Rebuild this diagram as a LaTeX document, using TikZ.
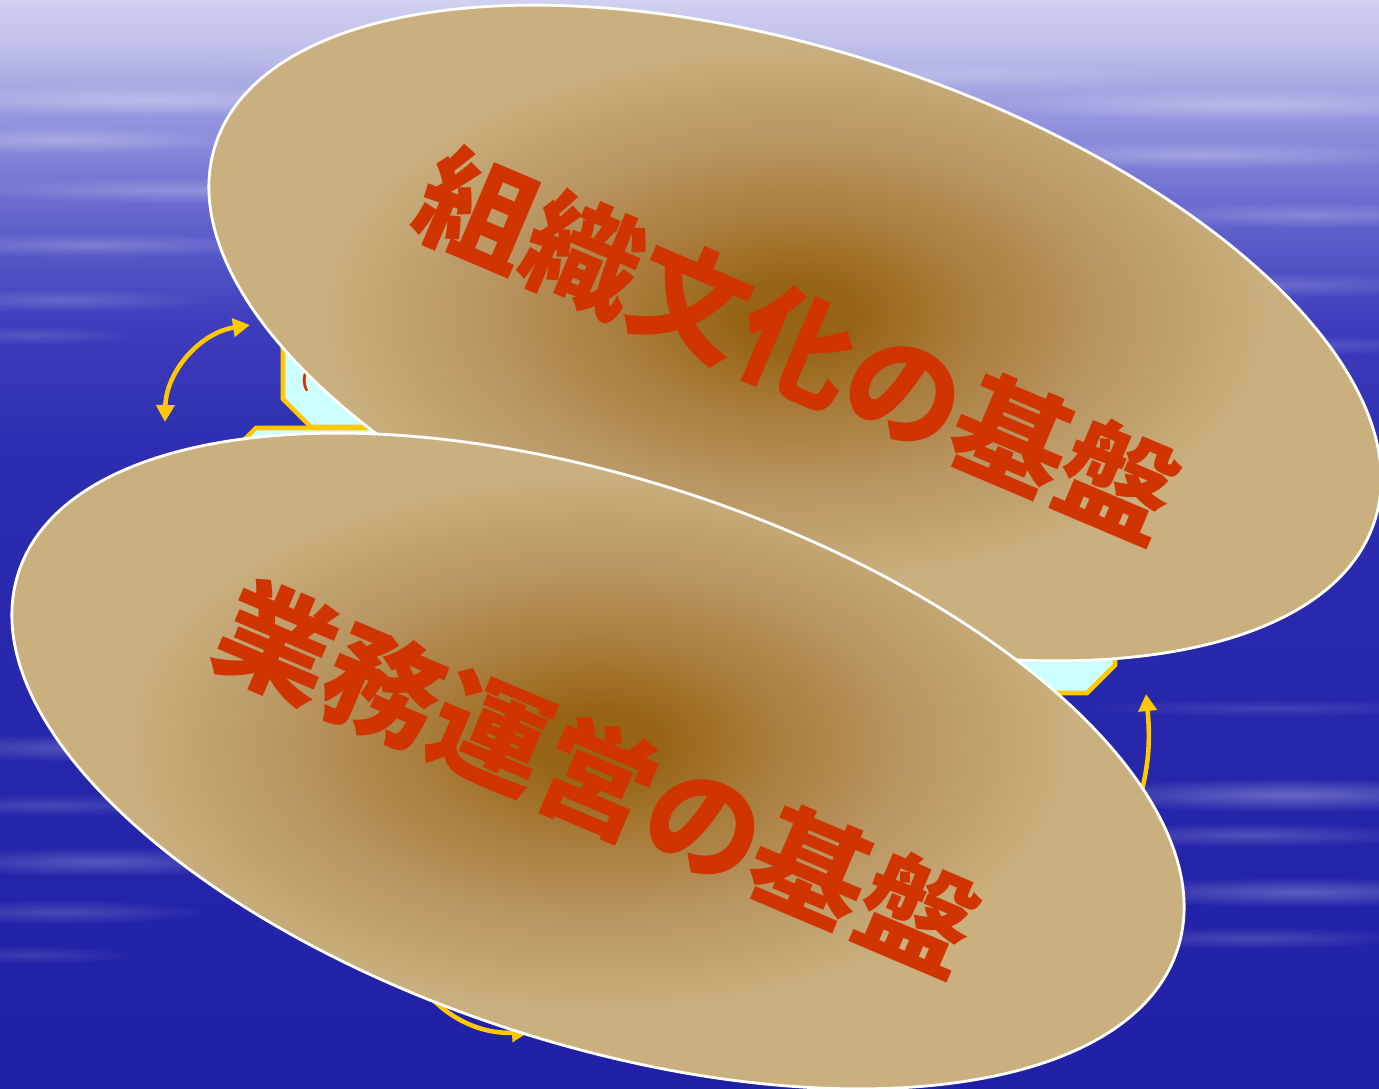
\documentclass[tikz,border=0pt]{standalone}
\usepackage{fontspec}
\usetikzlibrary{arrows.meta, shapes.geometric, fadings}
\newfontfamily\jpfont{Noto Sans CJK JP}
\definecolor{skytop}{RGB}{208,208,240}
\definecolor{skyhi}{RGB}{192,192,234}
\definecolor{skymid}{RGB}{148,148,222}
\definecolor{skyblu}{RGB}{100,100,205}
\definecolor{skylow}{RGB}{60,60,188}
\definecolor{skydeep}{RGB}{44,44,176}
\definecolor{skybot}{RGB}{32,32,166}
\definecolor{basec}{RGB}{201,176,126}
\definecolor{coremid}{RGB}{184,148,96}
\definecolor{coreinc}{RGB}{166,120,52}
\definecolor{corec}{RGB}{150,100,20}
\definecolor{titlec}{RGB}{208,52,0}
\definecolor{boxc}{RGB}{204,255,255}
\definecolor{goldc}{RGB}{255,200,0}
\pgfdeclareverticalshading{sky}{100bp}{%
  color(0bp)=(skybot); color(25bp)=(skybot); color(54bp)=(skydeep);
  color(60bp)=(skylow); color(65bp)=(skyblu); color(69.5bp)=(skymid);
  color(73bp)=(skyhi); color(75bp)=(skytop); color(100bp)=(skytop)}
\pgfdeclareradialshading{basin}{\pgfpoint{0bp}{0bp}}{%
  color(0bp)=(corec); color(2.5bp)=(corec); color(6bp)=(coreinc);
  color(12bp)=(coremid); color(19bp)=(basec); color(50bp)=(basec)}
\tikzfading[name=streakfade, inner color=transparent!0, outer color=transparent!100]
% octagon box: left, top, right, bottom (pixels)
\newcommand\chambox[4]{%
  \draw[cell] (#1+28,#2) -- (#3-28,#2) -- (#3,#2+28) -- (#3,#4-28)
    -- (#3-28,#4) -- (#1+28,#4) -- (#1,#4-28) -- (#1,#2+28) -- cycle;}

\begin{document}
\begin{tikzpicture}[x=0.01cm, y=-0.01cm,
    basin/.style={ellipse, draw=white, line width=0.8pt, shading=basin,
      minimum width=12.18cm, minimum height=5.64cm, inner sep=0pt},
    title/.style={text=titlec, inner sep=0pt,
      font=\jpfont\bfseries\fontsize{33}{33}\selectfont},
    cell/.style={draw=goldc, fill=boxc, line width=1.3pt, line join=miter},
    cyc/.style={goldc, line width=1.3pt},
    tip/.tip={Triangle[length=1.7mm, width=1.8mm]}]
  \useasboundingbox (0,0) rectangle (1379,1088);
  \clip (0,0) rectangle (1379,1088);
  % sky
  \shade[shading=sky] (0,0) rectangle (1379,1088);
  \foreach \x/\y/\rx/\ry/\o in {
      150/100/260/16/.30, 60/140/180/14/.28, 200/190/240/13/.24,
      90/245/190/12/.22, 60/300/150/12/.18, 30/335/110/10/.14,
      450/60/260/12/.18, 900/75/300/12/.18, 1250/105/260/16/.30,
      1200/155/230/14/.26, 1310/215/200/13/.22, 1270/285/190/12/.18,
      1330/345/140/10/.13,
      90/748/190/14/.22, 50/805/150/11/.16, 100/862/180/15/.24,
      60/912/150/12/.18, 30/955/110/9/.12, 1290/795/230/17/.30,
      1250/835/180/12/.20, 1300/892/210/15/.26, 1250/938/160/11/.17,
      1270/708/190/9/.12}
    \fill[white, opacity=\o, path fading=streakfade]
      (\x,\y) ellipse [x radius=\rx*0.01cm, y radius=\ry*0.01cm];
  % hidden cycle behind the two bases
  \chambox{228}{428}{600}{640}
  \chambox{283}{213}{697}{427}
  \chambox{800}{480}{1115}{693}
  \node[text=titlec, inner sep=0pt, font=\jpfont\bfseries\fontsize{6}{6}\selectfont]
    (frag) at (306,381) {(};
  \coordinate (la) at (165,422);
  \coordinate (lb) at (250,325);
  \coordinate (ra) at (1120,850);
  \coordinate (rb) at (1146,694);
  \coordinate (ba) at (400,950);
  \coordinate (bb) at (529,1032);
  \draw[cyc, tip-tip] (la) to[bend left=40] (lb);
  \draw[cyc, -tip] (ra) to[bend right=15] (rb);
  \draw[cyc, -tip] (ba) to[bend right=35] (bb);
  % the two bases
  \node[basin, rotate=-18] (org) at (795,333) {};
  \node[title, rotate=-23] (orgt) at (798,346) {組織文化の基盤};
  \node[basin, rotate=-18] (ops) at (598,761) {};
  \node[title, rotate=-23] (opst) at (598,778) {業務運営の基盤};
\end{tikzpicture}
\end{document}
